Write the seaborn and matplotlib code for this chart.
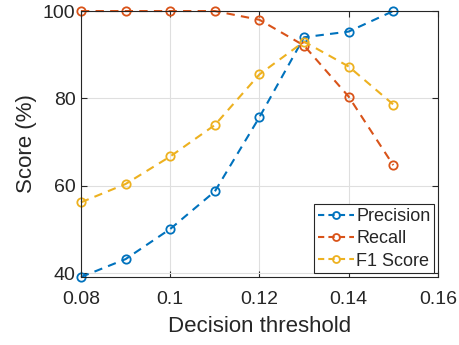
import matplotlib
matplotlib.use('Agg')
import matplotlib.pyplot as plt
import pandas as pd
import seaborn as sns

# Data
thresholds = [0.08, 0.09, 0.10, 0.11, 0.12, 0.13, 0.14, 0.15]
precision = [39.1, 43.2, 50.1, 58.7, 75.7, 94.0, 95.3, 100.0]
recall = [100.0, 100.0, 100.0, 100.0, 98.0, 92.1, 80.4, 64.7]
f1_score = [56.2, 60.4, 66.7, 73.9, 85.5, 93.0, 87.3, 78.6]
series_names = ['Precision', 'Recall', 'F1 Score']
colors = ['#0072BD', '#D95319', '#EDB120']

df = pd.DataFrame({
    'threshold': thresholds * 3,
    'score': precision + recall + f1_score,
    'series': [s for s in series_names for _ in thresholds],
})

sns.set_style("ticks")
plt.rcParams['font.family'] = ['Liberation Sans', 'DejaVu Sans']

fig = plt.figure(figsize=(4.6, 3.45), dpi=100)
ax = fig.add_axes([0.176, 0.197, 0.776, 0.771])

sns.lineplot(data=df, x='threshold', y='score', hue='series', palette=colors,
             hue_order=series_names, ax=ax, marker='o', markersize=6,
             markerfacecolor='none', markeredgewidth=1.3, linewidth=1.5,
             linestyle='--', dashes=False)
for line in ax.get_lines():
    line.set_linestyle((0, (4, 3)))
    line.set_markerfacecolor('none')
    line.set_markeredgecolor(line.get_color())
    line.set_clip_on(False)

ax.set_xlim(0.08, 0.16)
ax.set_ylim(39.1, 100)
ax.set_xticks([0.08, 0.1, 0.12, 0.14, 0.16])
ax.set_xticklabels(['0.08', '0.1', '0.12', '0.14', '0.16'])
ax.set_yticks([40, 60, 80, 100])
ax.grid(True, color='#dfdfdf', linewidth=0.8)
ax.set_axisbelow(True)
for sp in ax.spines.values():
    sp.set_visible(True)
    sp.set_color('#262626')
    sp.set_linewidth(0.8)
ax.tick_params(direction='in', length=4, width=0.8, top=True, right=True,
               labelsize=14, colors='#262626')
ax.tick_params(axis='x', pad=10)
ax.tick_params(axis='y', pad=4)
ax.set_xlabel('Decision threshold', fontsize=16, color='#262626', labelpad=6)
ax.set_ylabel('Score (%)', fontsize=16, color='#262626', labelpad=4)

leg = ax.legend(loc='lower right', fontsize=13, frameon=True, fancybox=False,
                edgecolor='#262626', framealpha=1, borderpad=0.2,
                handlelength=2.0, handletextpad=0.15, labelspacing=0.3,
                borderaxespad=0.2)
leg.get_frame().set_linewidth(0.8)
for h in leg.get_lines():
    h.set_linestyle((0, (3, 2)))
    h.set_markerfacecolor('none')
    h.set_markersize(5)

fig.savefig('out.png', dpi=100)
